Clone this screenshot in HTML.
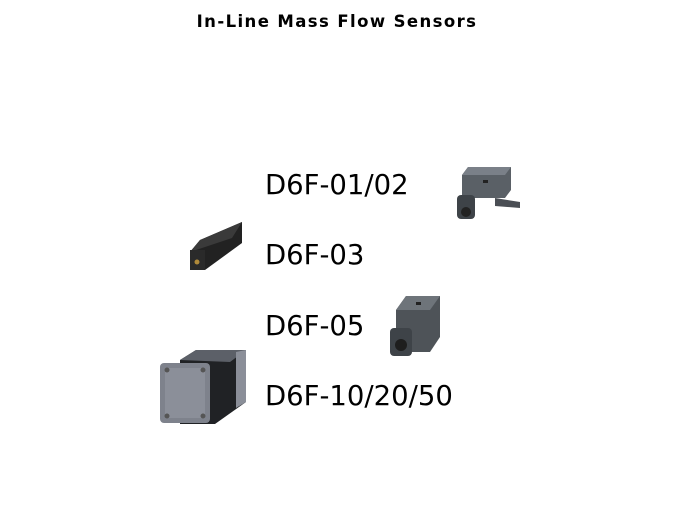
<!DOCTYPE html>
<html><head><style>
html,body{margin:0;padding:0;background:#fff;}
body{width:674px;height:506px;position:relative;overflow:hidden;font-family:"DejaVu Sans","Liberation Sans",sans-serif;}
.t{position:absolute;left:0;width:674px;text-align:center;top:12px;font-weight:bold;font-size:16.5px;letter-spacing:1.4px;color:#000;}
.l{position:absolute;left:265px;font-size:27.5px;color:#000;line-height:1;white-space:nowrap;}
svg{position:absolute;left:0;top:0;}
</style></head><body>
<div class="t">In-Line Mass Flow Sensors</div>
<div class="l" style="top:172px">D6F-01/02</div>
<div class="l" style="top:242px">D6F-03</div>
<div class="l" style="top:313px">D6F-05</div>
<div class="l" style="top:383px">D6F-10/20/50</div>
<svg width="674" height="506">
 <polygon points="462,175 468,167 511,167 511,190 505,198 462,198" fill="#5a6066"/>
 <polygon points="462,175 468,167 511,167 505,175" fill="#7a8088"/>
 <polygon points="495,198 520,202 520,208 495,206" fill="#4a4e54"/>
 <rect x="457" y="195" width="18" height="24" rx="4" fill="#3e4348"/>
 <circle cx="466" cy="212" r="5" fill="#222"/>
 <rect x="483" y="180" width="5" height="3" fill="#222"/>
 <polygon points="190,252 200,240 242,222 242,243 205,270 190,270" fill="#222"/>
 <polygon points="190,252 200,240 242,222 232,238" fill="#3a3a3a"/>
 <rect x="190" y="250" width="15" height="20" fill="#2a2a2a"/>
 <circle cx="197" cy="262" r="2.5" fill="#b08a3a"/>
 <polygon points="396,310 406,296 440,296 440,337 430,352 396,352" fill="#4e5358"/>
 <polygon points="396,310 406,296 440,296 430,310" fill="#6e747a"/>
 <rect x="390" y="328" width="22" height="28" rx="4" fill="#3e4348"/>
 <circle cx="401" cy="345" r="6" fill="#1e1e1e"/>
 <rect x="416" y="302" width="5" height="3" fill="#222"/>
 <polygon points="180,360 196,350 246,350 246,402 215,424 180,424" fill="#202225"/>
 <polygon points="180,360 196,350 246,350 230,362" fill="#5c6068"/>
 <rect x="160" y="363" width="50" height="60" rx="4" fill="#7e828c"/>
 <rect x="165" y="368" width="40" height="50" fill="#8b8f99"/>
 <circle cx="167" cy="370" r="2.5" fill="#555"/><circle cx="203" cy="370" r="2.5" fill="#555"/>
 <circle cx="167" cy="416" r="2.5" fill="#555"/><circle cx="203" cy="416" r="2.5" fill="#555"/>
 <polygon points="236,352 246,350 246,402 236,408" fill="#8b8f99"/>
</svg>
</body></html>
